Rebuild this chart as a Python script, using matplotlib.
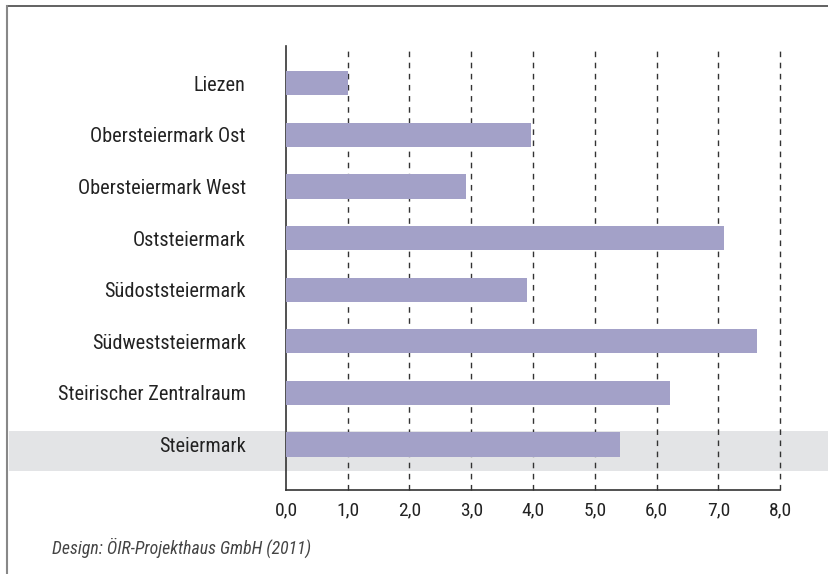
import matplotlib
matplotlib.use("Agg")
import matplotlib.pyplot as plt
from matplotlib import font_manager
from matplotlib.patches import Rectangle
from matplotlib.lines import Line2D
from matplotlib.transforms import blended_transform_factory

categories = ["Liezen", "Obersteiermark Ost", "Obersteiermark West", "Oststeiermark",
              "Südoststeiermark", "Südweststeiermark", "Steirischer Zentralraum", "Steiermark"]
values = [1.00, 3.97, 2.92, 7.09, 3.90, 7.62, 6.22, 5.41]
xticks = [0, 1, 2, 3, 4, 5, 6, 7, 8]
xtick_labels = ["0,0", "1,0", "2,0", "3,0", "4,0", "5,0", "6,0", "7,0", "8,0"]
footer = "Design: ÖIR-Projekthaus GmbH (2011)"

avail = {f.name for f in font_manager.fontManager.ttflist}
font = "DejaVu Sans"
for cand in ["Liberation Sans Narrow", "DejaVu Sans Condensed", "Roboto Condensed", "Open Sans", "Lato"]:
    if cand in avail:
        font = cand
        break
plt.rcParams["font.family"] = [font, "DejaVu Sans"]

W, H = 829, 574
fig = plt.figure(figsize=(W / 100, H / 100), dpi=100)
ax_left, ax_right, ax_top, ax_bottom = 286, 780, 46, 490
ax = fig.add_axes([ax_left / W, 1 - ax_bottom / H, (ax_right - ax_left) / W, (ax_bottom - ax_top) / H])

bar_color = "#a3a1c8"
ypos = list(range(len(categories)))
ax.barh(ypos, values, height=0.47, color=bar_color, zorder=3)
ax.set_xlim(0, 8)
ax.set_ylim(len(categories) - 1 + 0.88, -0.72)

for x in xticks[1:]:
    ax.axvline(x, color="#333333", linestyle=(0, (4, 4)), linewidth=1.0, zorder=2, clip_on=False)

ax.set_xticks(xticks)
ax.set_xticklabels(xtick_labels, fontsize=14, color="#222222")
ax.set_yticks(ypos)
ax.set_yticklabels(categories, fontsize=14.6, color="#222222")
ax.tick_params(axis="both", length=0)
ax.tick_params(axis="y", pad=29)
ax.tick_params(axis="x", pad=8)
for s in ["top", "right"]:
    ax.spines[s].set_visible(False)
for s in ["left", "bottom"]:
    ax.spines[s].set_color("#333333")
    ax.spines[s].set_linewidth(1.2)

# highlight band for Steiermark
tr = blended_transform_factory(fig.transFigure, ax.transData)
idx = categories.index("Steiermark")
band = Rectangle((9 / W, idx - 0.27), 1 - 9 / W, 0.78, transform=tr,
                 facecolor="#e3e4e6", edgecolor="none", zorder=0, clip_on=False)
ax.add_artist(band)
ax.patch.set_alpha(0)

# frame lines (top and left)
fig.add_artist(Line2D([7.5 / W, 1], [1 - 6 / H, 1 - 6 / H], color="#555555", linewidth=1.3))
fig.add_artist(Line2D([7.5 / W, 7.5 / W], [0, 1 - 6 / H], color="#888888", linewidth=1.5))

fig.text(52 / W, 1 - 548 / H, footer, fontsize=12.8, style="italic", color="#444444",
         ha="left", va="center")

fig.savefig("out.png", dpi=100)
